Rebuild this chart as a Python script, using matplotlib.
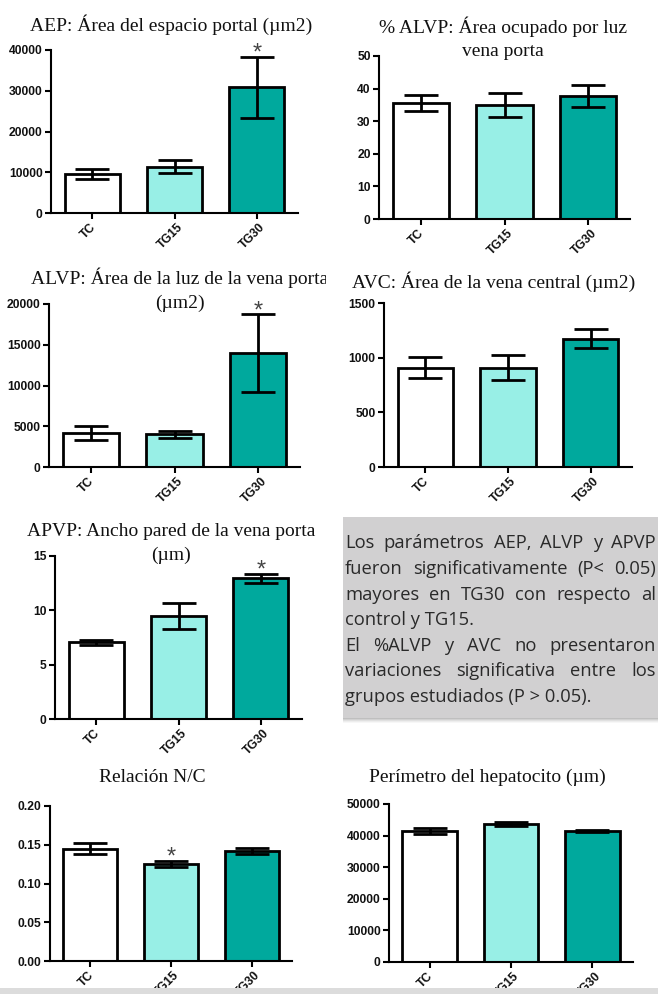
import matplotlib
matplotlib.use("Agg")
import matplotlib.pyplot as plt
from matplotlib.patches import Rectangle
from matplotlib.transforms import Bbox, TransformedBbox, ScaledTranslation

# ---------------- data ----------------
groups = ["TC", "TG15", "TG30"]

aep_mean = [9500, 11400, 30800]
aep_sem = [1250, 1700, 7600]

palvp_mean = [35.5, 35.0, 37.7]
palvp_sem = [2.5, 3.7, 3.4]

alvp_mean = [4200, 4000, 14000]
alvp_sem = [850, 400, 4750]

avc_mean = [910, 910, 1175]
avc_sem = [100, 115, 87]

apvp_mean = [7.05, 9.5, 12.95]
apvp_sem = [0.2, 1.2, 0.43]

nc_mean = [0.145, 0.125, 0.142]
nc_sem = [0.0075, 0.0043, 0.004]

per_mean = [41500, 43700, 41400]
per_sem = [1000, 550, 300]

aep_ticks = [0, 10000, 20000, 30000, 40000]
palvp_ticks = [0, 10, 20, 30, 40, 50]
alvp_ticks = [0, 5000, 10000, 15000, 20000]
avc_ticks = [0, 500, 1000, 1500]
apvp_ticks = [0, 5, 10, 15]
nc_ticks = [0.00, 0.05, 0.10, 0.15, 0.20]
per_ticks = [0, 10000, 20000, 30000, 40000, 50000]

box_lines = [
    ("Los parámetros AEP, ALVP y APVP", True),
    ("fueron significativamente (P< 0.05)", True),
    ("mayores en TG30 con respecto al", True),
    ("control y TG15.", False),
    ("El %ALVP y AVC no presentaron", True),
    ("variaciones significativa entre los", True),
    ("grupos estudiados (P > 0.05).", False),
]

colors = ["#ffffff", "#98efe6", "#00a99d"]

# ---------------- figure ----------------
W, H = 658, 994
fig = plt.figure(figsize=(W / 100, H / 100), dpi=100)
fig.patch.set_facecolor("white")


def px_axes(x0, x1, ytop, ybot):
    return fig.add_axes([x0 / W, 1 - ybot / H, (x1 - x0) / W, (ybot - ytop) / H])


def panel(box, means, sems, ticks, fmt=None, star=None):
    ax = px_axes(*box)
    x = list(range(len(groups)))
    ax.bar(x, means, width=0.67, color=colors, edgecolor="black", linewidth=2, zorder=2)
    ax.errorbar(x, means, yerr=sems, fmt="none", ecolor="black", elinewidth=2,
                capsize=12, capthick=2, zorder=3)
    ax.set_xlim(-0.5, 2.5)
    ax.set_ylim(0, ticks[-1])
    ax.set_yticks(ticks)
    if fmt:
        ax.set_yticklabels([fmt % t for t in ticks])
    else:
        ax.set_yticklabels([str(t) for t in ticks])
    ax.set_xticks(x)
    ax.set_xticklabels(groups, rotation=45, ha="center")
    for sp in ["top", "right"]:
        ax.spines[sp].set_visible(False)
    for sp in ["left", "bottom"]:
        ax.spines[sp].set_linewidth(1.5)
    ax.tick_params(axis="both", direction="out", length=4, width=1.5, pad=2)
    for lab in ax.get_yticklabels() + ax.get_xticklabels():
        lab.set_fontfamily("Liberation Sans")
        lab.set_fontweight("bold")
        lab.set_fontsize(8.7)
        lab.set_color("#111111")
    for lab in ax.get_xticklabels():
        lab.set_transform(lab.get_transform() + ScaledTranslation(-3 / 72, 0, fig.dpi_scale_trans))
    if star is not None:
        ax.annotate("*", xy=(star, means[star] + sems[star]), xytext=(0, 2),
                    textcoords="offset points", ha="center", va="center",
                    fontsize=17, color="#444444", family="Liberation Sans")
    return ax


panel((51, 298, 50, 213), aep_mean, aep_sem, aep_ticks, star=2)
panel((379, 630, 56, 219), palvp_mean, palvp_sem, palvp_ticks)
panel((49, 300, 304, 467), alvp_mean, alvp_sem, alvp_ticks, star=2)
panel((384, 632, 303, 467), avc_mean, avc_sem, avc_ticks)
panel((55, 302, 556, 719), apvp_mean, apvp_sem, apvp_ticks, star=2)
panel((50, 292, 806, 961), nc_mean, nc_sem, nc_ticks, fmt="%.2f", star=1)
panel((389, 633, 804, 962), per_mean, per_sem, per_ticks)

# ---------------- overlay (titles, text box, strip) ----------------
ov = fig.add_axes([0, 0, 1, 1], zorder=5)
ov.set_xlim(0, W)
ov.set_ylim(H, 0)
ov.axis("off")
ov.patch.set_visible(False)

tkw = dict(family="Liberation Serif", fontsize=14, color="#111111", ha="center", va="center")
ov.text(171, 25, "AEP: Área del espacio portal (µm2)", **tkw)
ov.text(503, 27, "% ALVP: Área ocupado por luz", **tkw)
ov.text(503, 52, "vena porta", **tkw)
t3 = ov.text(180, 278, "ALVP: Área de la luz de la vena porta", **tkw)
t3.set_clip_on(True)
t3.set_clip_box(TransformedBbox(Bbox([[0, 0], [326, H]]), ov.transData))
ov.text(180, 303, "(µm2)", **tkw)
ov.text(494, 282, "AVC: Área de la vena central (µm2)", **tkw)
ov.text(171, 531, "APVP: Ancho pared de la vena porta", **tkw)
ov.text(171, 555, "(µm)", **tkw)
ov.text(152, 778, "Relación N/C", **tkw)
ov.text(487, 777, "Perímetro del hepatocito (µm)", **tkw)

# text box
for k, a in enumerate([0.25, 0.18, 0.12, 0.07, 0.03]):
    ov.add_patch(Rectangle((343, 718 + k), 315, 1, facecolor="black", alpha=a,
                           edgecolor="none"))
ov.add_patch(Rectangle((343, 517), 315, 201, facecolor="#d1d0d1", edgecolor="none"))

renderer = fig.canvas.get_renderer()
bkw = dict(family="Open Sans", fontsize=13.2, color="#2a2a2a", va="baseline", ha="left")
x_left, x_right = 345, 656
baselines = [548, 574, 599.5, 625, 651, 676.5, 702]


def width_px(s):
    t = ov.text(0, 0, s, **bkw)
    bb = t.get_window_extent(renderer=renderer)
    t.remove()
    return bb.width


for (line, just), yb in zip(box_lines, baselines):
    if not just:
        ov.text(x_left, yb, line, **bkw)
        continue
    words = line.split(" ")
    widths = [width_px(w) for w in words]
    gap = (x_right - x_left - sum(widths)) / (len(words) - 1)
    xp = x_left
    for w, wd in zip(words, widths):
        ov.text(xp, yb, w, **bkw)
        xp += wd + gap

# bottom strip
ov.add_patch(Rectangle((0, 988), W, 6, facecolor="#dcdcdc", edgecolor="none"))

fig.savefig("out.png", dpi=100)
